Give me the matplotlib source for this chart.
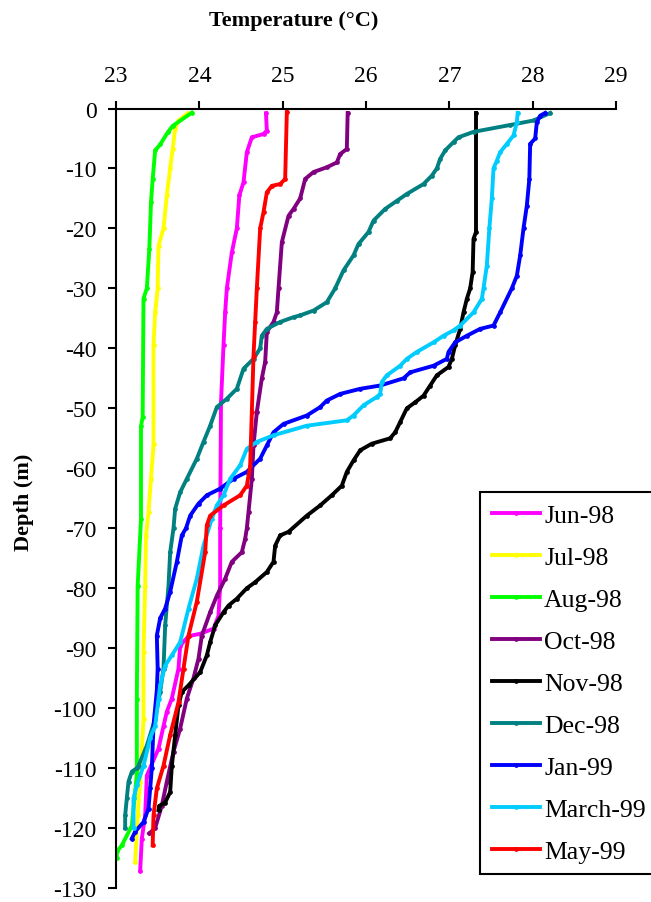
import matplotlib.pyplot as plt

plt.rcParams['font.family'] = ['Liberation Serif', 'DejaVu Serif']
plt.rcParams['axes.unicode_minus'] = False

# profiles: temperature (deg C) vs depth (m)
months = ['Jun-98', 'Jul-98', 'Aug-98', 'Oct-98', 'Nov-98',
          'Dec-98', 'Jan-99', 'March-99', 'May-99']
colors = ['#ff00ff', '#ffff00', '#00ff00', '#800080', '#000000',
          '#008080', '#0000ff', '#00ccff', '#ff0000']

jun98_t = [24.80, 24.81, 24.77, 24.63, 24.57, 24.53, 24.48, 24.45, 24.39, 24.33,
           24.31, 24.29, 24.26, 24.25, 24.25, 24.23, 24.17, 24.01, 23.87, 23.77,
           23.75, 23.67, 23.61, 23.57, 23.51, 23.37, 23.35, 23.31, 23.29]
jun98_d = [-0.8, -3.7, -4.25, -4.8, -7.3, -12.3, -14.5, -20, -24, -30,
           -34, -39.5, -49, -70, -79.6, -84.6, -86.75, -87.6, -88, -89.6,
           -93.4, -98.4, -100.6, -103, -106.75, -111.25, -117.9, -121.75, -127.1]

jul98_t = [23.86, 23.75, 23.71, 23.68, 23.65, 23.61, 23.57, 23.51, 23.50, 23.47,
           23.45, 23.45, 23.42, 23.39, 23.36, 23.35, 23.33, 23.33, 23.31, 23.29,
           23.26, 23.23]
jul98_d = [-0.8, -2, -3.4, -6.75, -10, -14.5, -20, -22.9, -30, -34,
           -39.5, -56, -61.75, -67.3, -71.25, -79.6, -90.6, -101.75, -107.25, -112.25,
           -117.9, -125.6]

aug98_t = [23.91, 23.68, 23.62, 23.53, 23.47, 23.44, 23.42, 23.40, 23.37, 23.33,
           23.32, 23.30, 23.30, 23.26, 23.25, 23.25, 23.19, 23.07, 23.01, 23.01]
aug98_d = [-0.7, -2.9, -4, -6, -7, -11.8, -15.6, -23.4, -30, -31.7,
           -51.4, -53, -68.4, -79.6, -98.4, -111, -119.6, -122.9, -123.9, -125]

oct98_t = [25.78, 25.77, 25.69, 25.65, 25.53, 25.37, 25.27, 25.21, 25.13, 25.07,
           24.99, 24.95, 24.93, 24.89, 24.81, 24.79, 24.75, 24.69, 24.65, 24.63,
           24.59, 24.57, 24.55, 24.51, 24.39, 24.31, 24.21, 24.13, 24.03, 23.99,
           23.93, 23.85, 23.77, 23.69, 23.61, 23.55, 23.47, 23.40]
oct98_d = [-0.75, -6.75, -7.6, -9, -9.8, -10.6, -11.75, -15, -16.75, -17.9,
           -22.3, -30, -34, -35.6, -37.25, -42.25, -45, -50.6, -56.2, -61.75,
           -67.3, -70, -71.75, -74, -75.6, -78.4, -81.25, -84, -87.9, -91.75,
           -95, -98.4, -103.4, -107.25, -112.25, -116.25, -120, -120.9]

nov98_t = [27.32, 27.32, 27.29, 27.28, 27.25, 27.21, 27.17, 27.13, 27.07, 27.03,
           26.99, 26.85, 26.77, 26.69, 26.59, 26.49, 26.41, 26.35, 26.29, 26.07,
           25.93, 25.85, 25.77, 25.71, 25.59, 25.45, 25.29, 25.07, 24.97, 24.91,
           24.89, 24.81, 24.67, 24.57, 24.45, 24.35, 24.29, 24.19, 24.13, 24.09,
           24.01, 23.87, 23.79, 23.75, 23.71, 23.67, 23.65, 23.59, 23.52, 23.51]
nov98_d = [-0.75, -20.6, -21.75, -27.25, -30, -31.75, -34, -36.75, -39.5, -41.75,
           -43.1, -44.5, -46.2, -47.9, -49, -50, -52.3, -54, -55, -55.9,
           -57, -58.7, -60.6, -62.9, -64.5, -66.2, -67.9, -70.6, -71.2, -72.9,
           -75.6, -77.3, -79, -80, -81.75, -82.9, -84, -86.2, -89, -91.2,
           -94, -96.2, -97.3, -99.5, -104.5, -109.6, -114, -115.75, -116.3, -117]

dec98_t = [28.21, 28.01, 27.73, 27.29, 27.11, 27.05, 26.95, 26.89, 26.85, 26.79,
           26.69, 26.49, 26.37, 26.23, 26.09, 26.03, 25.91, 25.85, 25.73, 25.63,
           25.53, 25.37, 25.21, 25.13, 24.97, 24.81, 24.75, 24.73, 24.65, 24.53,
           24.45, 24.33, 24.21, 24.13, 24.05, 23.97, 23.85, 23.77, 23.71, 23.69,
           23.65, 23.63, 23.59, 23.57, 23.53, 23.47, 23.37, 23.27, 23.25, 23.19,
           23.15, 23.13, 23.11, 23.11]
dec98_d = [-0.75, -2, -2.75, -3.9, -4.8, -5.6, -7, -8.4, -10, -11.2,
           -12.6, -14.25, -15.4, -16.75, -18.7, -20.6, -22.6, -24.5, -27, -30,
           -32.3, -33.7, -34.5, -34.8, -35.6, -36.75, -37.9, -40, -41.75, -43.4,
           -46.75, -48.4, -49.8, -52.9, -55.6, -58.4, -61.75, -64, -66.75, -70,
           -74, -79.6, -86.2, -93.4, -97.3, -101.75, -106.25, -109.6, -110, -110.6,
           -112.25, -115, -117.9, -120]

jan99_t = [28.15, 28.09, 28.05, 28.03, 27.97, 27.96, 27.93, 27.89, 27.85, 27.81,
           27.75, 27.61, 27.53, 27.37, 27.21, 27.07, 26.99, 26.97, 26.81, 26.53,
           26.45, 26.17, 25.93, 25.69, 25.53, 25.45, 25.29, 25.01, 24.89, 24.81,
           24.73, 24.57, 24.41, 24.25, 24.09, 23.99, 23.89, 23.84, 23.79, 23.73,
           23.65, 23.59, 23.53, 23.49, 23.50, 23.49, 23.45, 23.43, 23.41, 23.39,
           23.33, 23.23, 23.19]
jan99_d = [-0.75, -1.2, -2.3, -5, -5.9, -11.75, -16.2, -20, -24.5, -27.9,
           -30, -34, -36.2, -36.75, -37.9, -39, -40.6, -41.75, -42.9, -44,
           -45, -46.2, -46.75, -47.6, -48.7, -49.8, -51.2, -52.6, -54, -56.2,
           -58.4, -60.6, -61.75, -63.4, -64.5, -65.9, -67.9, -70, -71.2, -75.6,
           -80.6, -83.4, -85, -87.9, -93.4, -97, -102.9, -110, -113.4, -116.75,
           -119, -120.6, -121.75]

mar99_t = [27.82, 27.81, 27.77, 27.69, 27.61, 27.57, 27.53, 27.51, 27.48, 27.45,
           27.41, 27.39, 27.29, 27.13, 27.05, 26.93, 26.81, 26.61, 26.49, 26.41,
           26.25, 26.19, 26.17, 26.13, 25.97, 25.85, 25.77, 25.29, 24.89, 24.69,
           24.57, 24.49, 24.37, 24.29, 24.21, 24.15, 24.05, 23.97, 23.87, 23.77,
           23.67, 23.59, 23.53, 23.51, 23.47, 23.41, 23.33, 23.25, 23.21, 23.21]
mar99_d = [-0.75, -2.3, -4.5, -5.9, -7.3, -8.7, -10, -15, -20, -26.2,
           -30, -31.75, -34, -36.2, -37, -37.9, -39, -40.6, -41.75, -42.9,
           -44.5, -45.6, -47.6, -48.1, -49.5, -51.2, -52, -52.9, -54.5, -55.6,
           -56.75, -59.5, -61.75, -64.5, -66.2, -68.4, -72.9, -78.4, -83.4, -89,
           -91.2, -92.9, -96.2, -98.4, -102.9, -105, -109.6, -112.9, -115, -120]

may99_t = [25.05, 25.03, 24.97, 24.87, 24.81, 24.77, 24.73, 24.69, 24.67, 24.65,
           24.63, 24.61, 24.57, 24.49, 24.29, 24.13, 24.09, 24.07, 23.97, 23.87,
           23.81, 23.75, 23.65, 23.57, 23.49, 23.45, 23.44]
may99_d = [-0.6, -11.75, -12.6, -12.9, -14, -17.3, -20, -30, -35.6, -41.2,
           -50.6, -59.6, -62.9, -64.5, -66.2, -67.9, -69.5, -74, -82.25, -87.9,
           -93.4, -99, -104.5, -109.6, -113.4, -117.9, -122.9]

temps = [jun98_t, jul98_t, aug98_t, oct98_t, nov98_t, dec98_t, jan99_t, mar99_t, may99_t]
depths = [jun98_d, jul98_d, aug98_d, oct98_d, nov98_d, dec98_d, jan99_d, mar99_d, may99_d]

x_ticks = [23, 24, 25, 26, 27, 28, 29]
y_ticks = list(range(-130, 1, 10))

fig = plt.figure(figsize=(6.51, 9.03), dpi=100)
ax = fig.add_axes([116 / 651, 1 - 889 / 903, 500 / 651, 779.5 / 903])

for t, d, c, name in zip(temps, depths, colors, months):
    ax.plot(t, d, color=c, lw=2.8, marker='o', ms=2.4, label=name)

ax.set_xlim(23, 29)
ax.set_ylim(-130, 0)
ax.set_xticks(x_ticks)
ax.set_yticks(y_ticks)
ax.xaxis.tick_top()
ax.spines['right'].set_visible(False)
ax.spines['bottom'].set_visible(False)
ax.spines['left'].set_linewidth(1.5)
ax.spines['top'].set_linewidth(1.5)
ax.tick_params(direction='out', length=6, width=1.5, labelsize=17)
ax.tick_params(axis='x', pad=10)
ax.tick_params(axis='y', pad=8)

fig.text(294 / 651, 1 - 21 / 903, 'Temperature (\u00b0C)', ha='center', va='center',
         fontsize=16, fontweight='bold')
fig.text(24 / 651, 1 - 502 / 903, 'Depth (m)', ha='center', va='center',
         rotation=90, fontsize=16, fontweight='bold')

leg = ax.legend(loc='upper left', bbox_to_anchor=(480 / 651, 1 - 493 / 903),
                bbox_transform=fig.transFigure, fontsize=18.5, frameon=True,
                fancybox=False, edgecolor='black', framealpha=1, borderaxespad=0,
                handlelength=1.87, handletextpad=0.18, labelspacing=0.74,
                borderpad=0.45)
leg.get_frame().set_linewidth(1.5)

fig.savefig('out.png', dpi=100)
